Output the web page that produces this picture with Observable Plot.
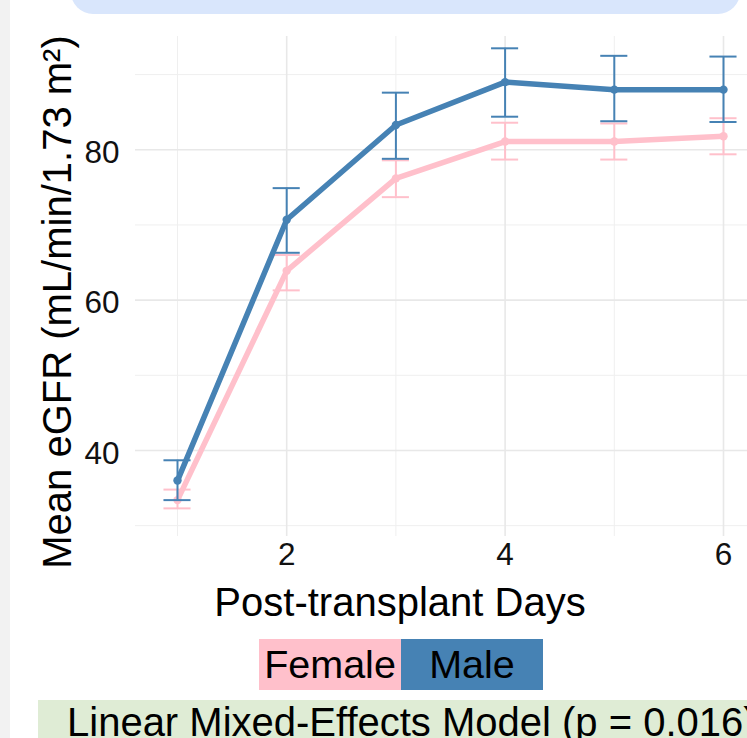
<!DOCTYPE html>
<html>
<head>
<meta charset="utf-8">
<script src="https://cdn.jsdelivr.net/npm/d3@7"></script>
<script src="https://cdn.jsdelivr.net/npm/@observablehq/plot@0.6"></script>
<style>
  html, body { margin: 0; padding: 0; background: #ffffff; overflow: hidden; }
  body { width: 747px; height: 738px; position: relative; font-family: "Liberation Sans", Arial, sans-serif; color: #000; }
  #strip { position: absolute; left: 0; top: 0; width: 10px; height: 738px; background: #f2f2f2; z-index: 2; }
  #titlebox { position: absolute; left: 71px; top: -30px; width: 669px; height: 44px; background: #d9e6fc; border-radius: 22px; z-index: 2; }
  #chart { position: absolute; left: 0; top: 0; z-index: 1; }
  #ylab { position: absolute; left: 57px; top: 302px; transform: translate(-50%, -50%) rotate(-90deg); white-space: nowrap; font-size: 40px; line-height: 40px; z-index: 3; }
  #xlab { position: absolute; left: 400px; top: 582px; transform: translateX(-50%); white-space: nowrap; font-size: 40px; line-height: 40px; z-index: 3; }
  #legend { position: absolute; left: 259px; top: 639px; height: 51px; display: flex; z-index: 3; }
  #legend div { width: 142px; height: 51px; font-size: 39.5px; line-height: 51px; text-align: center; }
  #caption { position: absolute; left: 38px; top: 700px; width: 760px; height: 60px; background: #dfecd5; z-index: 3; }
  #caption span { position: absolute; left: 29px; top: 2px; font-size: 40px; line-height: 40px; white-space: nowrap; }
</style>
</head>
<body>
<div id="strip"></div>
<div id="titlebox"></div>
<div id="chart"></div>
<div id="ylab">Mean eGFR (mL/min/1.73 m²)</div>
<div id="xlab">Post-transplant Days</div>
<div id="legend"></div>
<div id="caption"><span>Linear Mixed-Effects Model (p = 0.016)</span></div>
<script>
// ---- data ----
const days = [1, 2, 3, 4, 5, 6];
const femaleMean  = [33.4, 63.9, 76.2, 81.1, 81.1, 81.8];
const femaleLower = [32.3, 61.3, 73.7, 78.7, 78.7, 79.4];
const femaleUpper = [34.8, 66.0, 78.6, 83.6, 83.5, 84.2];
const maleMean  = [36.0, 70.7, 83.3, 89.0, 88.0, 88.0];
const maleLower = [33.4, 66.3, 78.8, 84.4, 83.8, 83.7];
const maleUpper = [38.7, 74.9, 87.6, 93.5, 92.5, 92.4];
const groups = ["Female", "Male"];
const groupColors = ["#ffc0cb", "#4682b4"];
const xMajor = [2, 4, 6];
const xMinor = [1, 3, 5];
const yMajor = [40, 60, 80];
const yMinor = [30, 50, 70, 90];
const captionText = "Linear Mixed-Effects Model (p = 0.016)";

// ---- build table ----
const rows = [];
days.forEach((d, i) => {
  rows.push({group: "Female", day: d, mean: femaleMean[i], lo: femaleLower[i], hi: femaleUpper[i]});
  rows.push({group: "Male", day: d, mean: maleMean[i], lo: maleLower[i], hi: maleUpper[i]});
});
const capHalf = 0.124;

function seriesMarks(g, col) {
  const data = rows.filter(r => r.group === g);
  return [
    Plot.ruleX(data, {x: "day", y1: "lo", y2: "hi", stroke: col, strokeWidth: 2}),
    Plot.ruleY(data, {y: "lo", x1: d => d.day - capHalf, x2: d => d.day + capHalf, stroke: col, strokeWidth: 2}),
    Plot.ruleY(data, {y: "hi", x1: d => d.day - capHalf, x2: d => d.day + capHalf, stroke: col, strokeWidth: 2}),
    Plot.line(data, {x: "day", y: "mean", stroke: col, strokeWidth: 5.5, strokeLinejoin: "round", strokeLinecap: "butt"}),
    Plot.dot(data, {x: "day", y: "mean", fill: col, r: 4.2})
  ];
}

const chart = Plot.plot({
  width: 747,
  height: 575,
  marginTop: 36,
  marginBottom: 39,
  marginLeft: 135,
  marginRight: 0,
  style: {background: "transparent", fontFamily: "'Liberation Sans', Arial, sans-serif", color: "#111", overflow: "visible"},
  x: {domain: [0.6154, 6.2198], label: null},
  y: {domain: [28.56, 95.07], label: null},
  marks: [
    Plot.ruleX(xMinor, {stroke: "#efefef", strokeWidth: 1}),
    Plot.ruleY(yMinor, {stroke: "#efefef", strokeWidth: 1}),
    Plot.ruleX(xMajor, {stroke: "#e8e8e8", strokeWidth: 1.6}),
    Plot.ruleY(yMajor, {stroke: "#e8e8e8", strokeWidth: 1.6}),
    Plot.axisX(xMajor, {tickSize: 0, tickPadding: 6, fontSize: 31.5, label: null, fill: "#111"}),
    Plot.axisY(yMajor, {tickSize: 0, tickPadding: 16, fontSize: 31.5, label: null, dy: 3, fill: "#111"}),
    ...seriesMarks("Female", groupColors[0]),
    ...seriesMarks("Male", groupColors[1])
  ]
});
document.getElementById("chart").appendChild(chart);

const legend = document.getElementById("legend");
groups.forEach((g, i) => {
  const el = document.createElement("div");
  el.textContent = g;
  el.style.background = groupColors[i];
  legend.appendChild(el);
});
document.querySelector("#caption span").textContent = captionText;
</script>
</body>
</html>
